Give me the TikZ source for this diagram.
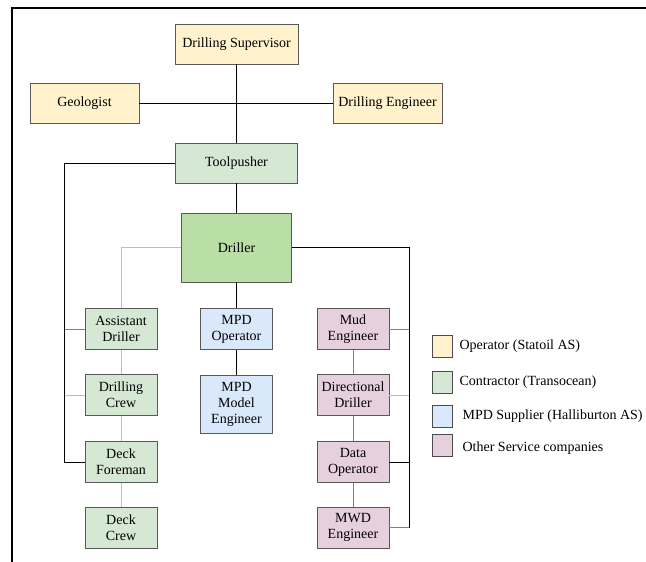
\documentclass[tikz,border=0pt]{standalone}
\usepackage{fontspec}
\setmainfont{LiberationSerif-Regular.ttf}
\usetikzlibrary{positioning}

\definecolor{opyellow}{HTML}{FFF2CC}
\definecolor{congreen}{HTML}{D5E8D4}
\definecolor{drillgreen}{HTML}{B9DFA6}
\definecolor{mpdblue}{HTML}{DAE8FC}
\definecolor{servpink}{HTML}{E6D0DE}

\begin{document}
\begin{tikzpicture}[
		x=1pt, y=-1pt,
		every node/.style={font=\fontsize{14}{16}\selectfont},
		box/.style={rectangle, draw=black!65, line width=0.8pt, align=center, inner sep=0pt, minimum height=40pt},
		col/.style={box, minimum width=72pt, minimum height=41pt},
		legsq/.style={rectangle, draw=black!70, line width=0.8pt, minimum width=20pt, minimum height=22pt, inner sep=0pt},
		link/.style={line width=0.9pt},
		midlink/.style={line width=0.9pt, draw=black!50},
		lightlink/.style={line width=0.9pt, draw=black!25}
	]
	\useasboundingbox (0,0) rectangle (646,562);
	\draw[line width=2pt] (646,8) -- (12,8) -- (12,562);

	% operator level
	\node[box, fill=opyellow, minimum width=123pt] (sup) at (236.5,44) {Drilling Supervisor};
	\node[box, fill=opyellow, minimum width=109pt] (geo) at (84.5,103) {Geologist};
	\node[box, fill=opyellow, minimum width=109pt] (eng) at (387.5,103) {Drilling Engineer};

	% contractor level
	\node[box, fill=congreen, minimum width=122pt] (tool) at (236.5,163) {Toolpusher};
	\node[box, fill=drillgreen, minimum width=110pt, minimum height=69pt] (driller) at (236.5,247.5) {Driller};

	% left column
	\node[col, fill=congreen] (asst) at (121,329) {Assistant\\Driller};
	\node[col, fill=congreen] (crew) at (121,395) {Drilling\\Crew};
	\node[col, fill=congreen] (foreman) at (121,462) {Deck\\Foreman};
	\node[col, fill=congreen] (deck) at (121,527.5) {Deck\\Crew};

	% middle column
	\node[col, fill=mpdblue] (mpdop) at (236.5,329) {MPD\\Operator};
	\node[col, fill=mpdblue, minimum height=58pt] (model) at (236.5,404) {MPD\\Model\\Engineer};

	% right column
	\node[col, fill=servpink] (mud) at (353,329) {Mud\\Engineer};
	\node[col, fill=servpink] (dir) at (353,395) {Directional\\Driller};
	\node[col, fill=servpink] (data) at (353,462) {Data\\Operator};
	\node[col, fill=servpink] (mwd) at (353,527.5) {MWD\\Engineer};

	% connectors
	\draw[link] (geo) -- (eng);
	\draw[link] (sup) -- (tool);
	\draw[link] (tool) -- (driller);
	\draw[link] (driller) -- (mpdop);
	\draw[link] (mpdop) -- (model);

	\draw[link] (tool.west) -| ([xshift=-20pt]foreman.west) -- (foreman.west);
	\draw[midlink] ([xshift=-20pt]asst.west) -- (asst.west);
	\draw[lightlink] ([xshift=-20pt]crew.west) -- (crew.west);
	\draw[lightlink] (driller.west) -| (asst.north);
	\draw[lightlink] (asst) -- (crew);
	\draw[lightlink] (crew) -- (foreman);
	\draw[lightlink] (foreman) -- (deck);

	\draw[link] (driller.east) -| ([xshift=20pt]mwd.east);
	\draw[midlink] ([xshift=20pt]mud.east) -- (mud.east);
	\draw[lightlink] ([xshift=20pt]dir.east) -- (dir.east);
	\draw[link] ([xshift=20pt]data.east) -- (data.east);
	\draw[midlink] ([xshift=20pt]mwd.east) -- (mwd.east);
	\draw[midlink] (mud) -- (dir);
	\draw[midlink] (dir) -- (data);
	\draw[midlink] (data) -- (mwd);

	% legend
	\node[legsq, fill=opyellow] (legop) at (442,346) {};
	\node[legsq, fill=congreen] (legcon) at (442,382) {};
	\node[legsq, fill=mpdblue] (legmpd) at (442,416) {};
	\node[legsq, fill=servpink] (legserv) at (442,445) {};
	\node[right=7pt of legop, inner sep=0pt] (txtop) {Operator (Statoil AS)};
	\node[right=7pt of legcon, inner sep=0pt] (txtcon) {Contractor (Transocean)};
	\node[right=10pt of legmpd, inner sep=0pt] (txtmpd) {MPD Supplier (Halliburton AS)};
	\node[right=10pt of legserv, yshift=-3pt, inner sep=0pt] (txtserv) {Other Service companies};
\end{tikzpicture}
\end{document}
